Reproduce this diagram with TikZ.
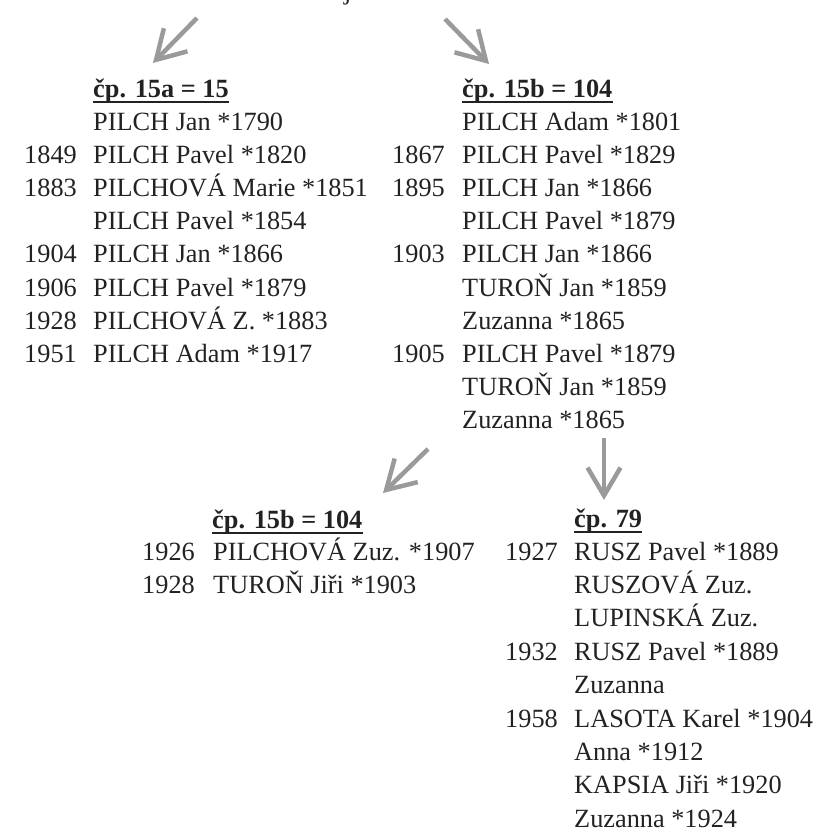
\documentclass[tikz,border=0pt]{standalone}
\usepackage{fontspec}
\setmainfont{Liberation Serif}
\usetikzlibrary{arrows.meta}
\definecolor{arrowgray}{HTML}{9A9A9A}
\definecolor{inkblack}{HTML}{222222}
\begin{document}
\begin{tikzpicture}[x=1pt,y=-1pt,
  txt/.style={anchor=base west,inner sep=0pt,text=inkblack,font=\fontsize{26.3}{33.2}\selectfont},
  hdr/.style={anchor=base west,inner sep=0pt,text=inkblack,font=\fontsize{26.3}{33.2}\selectfont\bfseries},
  arr/.style={draw=arrowgray,line width=4.5pt,-{Straight Barb[length=28pt,width=33pt]}},
  uline/.style={draw=inkblack,line width=1.6pt}]
\useasboundingbox (0,0) rectangle (835,835);

% cut-off text at the top
\node[txt] (topj) at (344,0) {j};

% arrows
\coordinate (a1s) at (197,18);  \coordinate (a1e) at (153,63);
\coordinate (a2s) at (445,19);  \coordinate (a2e) at (489,64);
\coordinate (a3s) at (428,449); \coordinate (a3e) at (383,493);
\coordinate (a4s) at (604,438); \coordinate (a4e) at (604,500);
\draw[arr] (a1s) -- (a1e);
\draw[arr] (a2s) -- (a2e);
\draw[arr] (a3s) -- (a3e);
\draw[arr] (a4s) -- (a4e);

% block left
\node[hdr] (hL) at (93,97) {čp. 15a = 15};
\draw[uline] ([yshift=-5pt]hL.base west) -- ([yshift=-5pt]hL.base east);
\foreach \nm [count=\i from 0] in {PILCH Jan *1790, PILCH Pavel *1820, PILCHOVÁ Marie *1851, PILCH Pavel *1854, PILCH Jan *1866, PILCH Pavel *1879, PILCHOVÁ Z. *1883, PILCH Adam *1917}
  \node[txt] (Ln\i) at (93,{130+33.2*\i}) {\nm};
\foreach \r/\yr in {1/1849, 2/1883, 4/1904, 5/1906, 6/1928, 7/1951}
  \node[txt] (Ly\r) at (24,{130+33.2*\r}) {\yr};

% block right
\node[hdr] (hR) at (462,97) {čp. 15b = 104};
\draw[uline] ([yshift=-5pt]hR.base west) -- ([yshift=-5pt]hR.base east);
\foreach \nm [count=\i from 0] in {PILCH Adam *1801, PILCH Pavel *1829, PILCH Jan *1866, PILCH Pavel *1879, PILCH Jan *1866, TUROŇ Jan *1859, Zuzanna *1865, PILCH Pavel *1879, TUROŇ Jan *1859, Zuzanna *1865}
  \node[txt] (Rn\i) at (462,{130+33.2*\i}) {\nm};
\foreach \r/\yr in {1/1867, 2/1895, 4/1903, 7/1905}
  \node[txt] (Ry\r) at (392,{130+33.2*\r}) {\yr};

% block bottom left
\node[hdr] (hBL) at (212,528) {čp. 15b = 104};
\draw[uline] ([yshift=-5pt]hBL.base west) -- ([yshift=-5pt]hBL.base east);
\foreach \nm [count=\i from 0] in {PILCHOVÁ Zuz. *1907, TUROŇ Jiři *1903}
  \node[txt] (BLn\i) at (213,{560.5+33.2*\i}) {\nm};
\foreach \r/\yr in {0/1926, 1/1928}
  \node[txt] (BLy\r) at (142,{560.5+33.2*\r}) {\yr};

% block bottom right
\node[hdr] (hBR) at (574,527) {čp. 79};
\draw[uline] ([yshift=-5pt]hBR.base west) -- ([yshift=-5pt]hBR.base east);
\foreach \nm [count=\i from 0] in {RUSZ Pavel *1889, RUSZOVÁ Zuz., LUPINSKÁ Zuz., RUSZ Pavel *1889, Zuzanna, LASOTA Karel *1904, Anna *1912, KAPSIA Jiři *1920, Zuzanna *1924}
  \node[txt] (BRn\i) at (574,{560+33.4*\i}) {\nm};
\foreach \r/\yr in {0/1927, 3/1932, 5/1958}
  \node[txt] (BRy\r) at (505,{560+33.4*\r}) {\yr};
\end{tikzpicture}
\end{document}
